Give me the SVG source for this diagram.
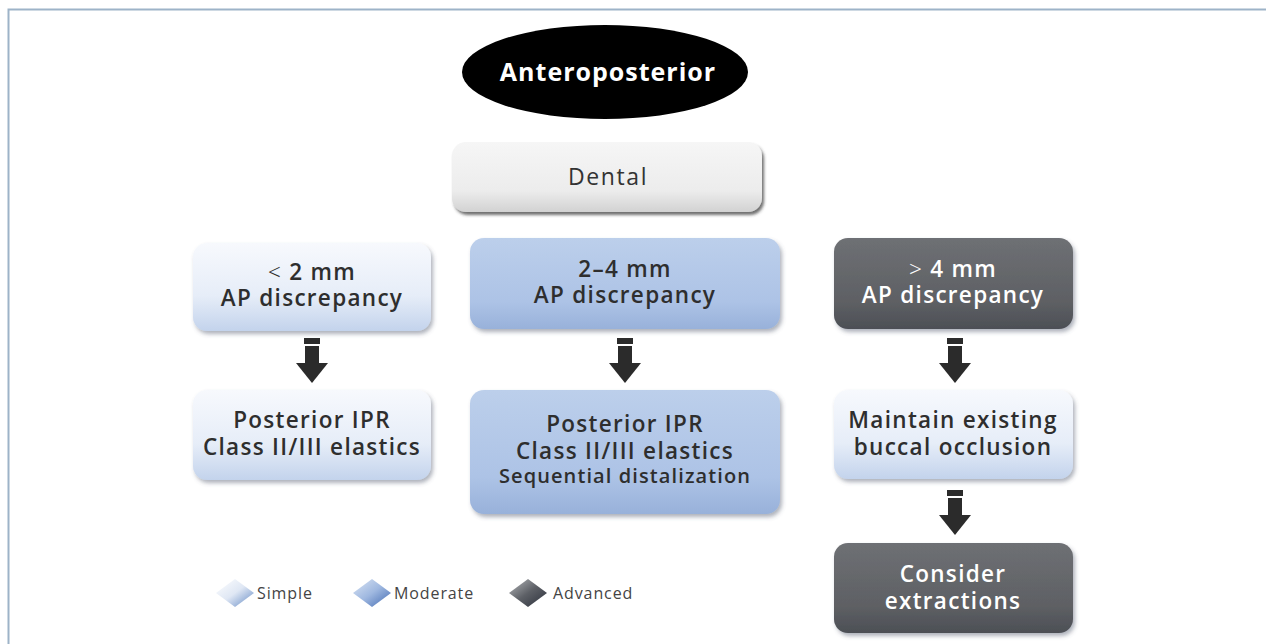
<svg xmlns="http://www.w3.org/2000/svg" width="1266" height="644" viewBox="0 0 1266 644">
<defs>
<linearGradient id="gLight" x1="0" y1="0" x2="0" y2="1">
<stop offset="0" stop-color="#f7f9fd"/><stop offset="0.6" stop-color="#e6edf8"/><stop offset="1" stop-color="#c3d3ec"/>
</linearGradient>
<linearGradient id="gMid" x1="0" y1="0" x2="0" y2="1">
<stop offset="0" stop-color="#bccfeb"/><stop offset="0.7" stop-color="#adc3e6"/><stop offset="1" stop-color="#98b1da"/>
</linearGradient>
<linearGradient id="gDark" x1="0" y1="0" x2="0" y2="1">
<stop offset="0" stop-color="#6e7074"/><stop offset="0.7" stop-color="#5e6064"/><stop offset="1" stop-color="#4c4f55"/>
</linearGradient>
<linearGradient id="gGrey" x1="0" y1="0" x2="0" y2="1">
<stop offset="0" stop-color="#f6f6f6"/><stop offset="0.7" stop-color="#ececec"/><stop offset="1" stop-color="#d2d2d2"/>
</linearGradient>
<linearGradient id="dLight" x1="0" y1="0" x2="1" y2="1">
<stop offset="0" stop-color="#ffffff"/><stop offset="0.5" stop-color="#dfe7f4"/><stop offset="1" stop-color="#5f86c2"/>
</linearGradient>
<linearGradient id="dMid" x1="0" y1="0" x2="1" y2="1">
<stop offset="0" stop-color="#dbe5f4"/><stop offset="0.5" stop-color="#9fb8e0"/><stop offset="1" stop-color="#3f68b0"/>
</linearGradient>
<linearGradient id="dDark" x1="0" y1="0" x2="1" y2="1">
<stop offset="0" stop-color="#b8babd"/><stop offset="0.5" stop-color="#5d6066"/><stop offset="1" stop-color="#2a2f3a"/>
</linearGradient>
<filter id="sh" x="-10%" y="-10%" width="125%" height="135%">
<feDropShadow dx="2" dy="3" stdDeviation="2" flood-color="#4a5568" flood-opacity="0.45"/>
</filter>
<filter id="shg" x="-10%" y="-10%" width="125%" height="140%">
<feDropShadow dx="2" dy="3" stdDeviation="1.5" flood-color="#333" flood-opacity="0.7"/>
</filter>
<g id="arrow">
<rect x="-8" y="0" width="16" height="6" fill="#2b2b2b"/>
<rect x="-7" y="8" width="14" height="18" fill="#2b2b2b"/>
<polygon points="-16,25 16,25 0,45" fill="#2b2b2b"/>
</g>
<style>
text{font-family:"Open Sans","Liberation Sans",sans-serif;text-anchor:middle;font-weight:600;}
.t{font-size:22.5px;fill:#2e2e2e;letter-spacing:1.3px;}
.w{font-size:22.5px;fill:#ffffff;letter-spacing:1.3px;}
.s{font-size:20px;fill:#2e2e2e;letter-spacing:1.1px;}
.lt{font-weight:300;}
.leg{font-size:16px;fill:#444;text-anchor:start;font-weight:400;letter-spacing:0.9px;}
</style>
</defs>
<rect x="0" y="0" width="1266" height="644" fill="#ffffff"/>
<path d="M8.5,644 V9.5 H1266" fill="none" stroke="#9db3c8" stroke-width="2"/>

<g id="n-anteroposterior">
<ellipse cx="605" cy="72" rx="143" ry="47" fill="#000"/>
<text x="608" y="81" style="font-size:25px;font-weight:700;fill:#fff;letter-spacing:1px">Anteroposterior</text>
</g>
<g id="n-dental">
<rect x="452" y="142" width="310" height="70" rx="14" fill="url(#gGrey)" filter="url(#shg)"/>
<text x="608" y="185" style="font-size:23px;font-weight:500;fill:#333;letter-spacing:1.6px">Dental</text>
</g>
<g id="n-lt2">
<rect x="193" y="243" width="238" height="88" rx="14" fill="url(#gLight)" filter="url(#sh)"/>
<text x="312" y="280" class="t"><tspan class="lt">&lt;</tspan> 2 mm</text>
<text x="312" y="306" class="t">AP discrepancy</text>
</g>
<g id="n-2to4">
<rect x="470" y="238" width="310" height="91" rx="14" fill="url(#gMid)" filter="url(#sh)"/>
<text x="625" y="277" class="t">2–4 mm</text>
<text x="625" y="303" class="t">AP discrepancy</text>
</g>
<g id="n-gt4">
<rect x="834" y="238" width="239" height="91" rx="14" fill="url(#gDark)" filter="url(#sh)"/>
<text x="953" y="277" class="w"><tspan class="lt">&gt;</tspan> 4 mm</text>
<text x="953" y="303" class="w">AP discrepancy</text>
</g>
<g id="n-left-res">
<rect x="193" y="390" width="238" height="90" rx="14" fill="url(#gLight)" filter="url(#sh)"/>
<text x="312" y="428" class="t">Posterior IPR</text>
<text x="312" y="455" class="t">Class II/III elastics</text>
</g>
<g id="n-mid-res">
<rect x="470" y="390" width="310" height="124" rx="14" fill="url(#gMid)" filter="url(#sh)"/>
<text x="625" y="432" class="t">Posterior IPR</text>
<text x="625" y="459" class="t">Class II/III elastics</text>
<text x="625" y="483" class="s">Sequential distalization</text>
</g>
<g id="n-maintain">
<rect x="834" y="390" width="239" height="89" rx="14" fill="url(#gLight)" filter="url(#sh)"/>
<text x="953" y="428" class="t">Maintain existing</text>
<text x="953" y="455" class="t">buccal occlusion</text>
</g>
<g id="n-extract">
<rect x="834" y="543" width="239" height="90" rx="14" fill="url(#gDark)" filter="url(#sh)"/>
<text x="953" y="582" class="w">Consider</text>
<text x="953" y="609" class="w">extractions</text>
</g>

<g id="connectors">
<use href="#arrow" x="312" y="338"/>
<use href="#arrow" x="625" y="338"/>
<use href="#arrow" x="955" y="338"/>
<use href="#arrow" x="955" y="490"/>
</g>

<g id="legend">
<polygon points="216,593 235,579 254,593 235,607" fill="url(#dLight)"/>
<text x="257" y="599" class="leg">Simple</text>
<polygon points="353,593 372,579 391,593 372,607" fill="url(#dMid)"/>
<text x="394" y="599" class="leg">Moderate</text>
<polygon points="509,593 528,579 547,593 528,607" fill="url(#dDark)"/>
<text x="553" y="599" class="leg">Advanced</text>
</g>
</svg>
